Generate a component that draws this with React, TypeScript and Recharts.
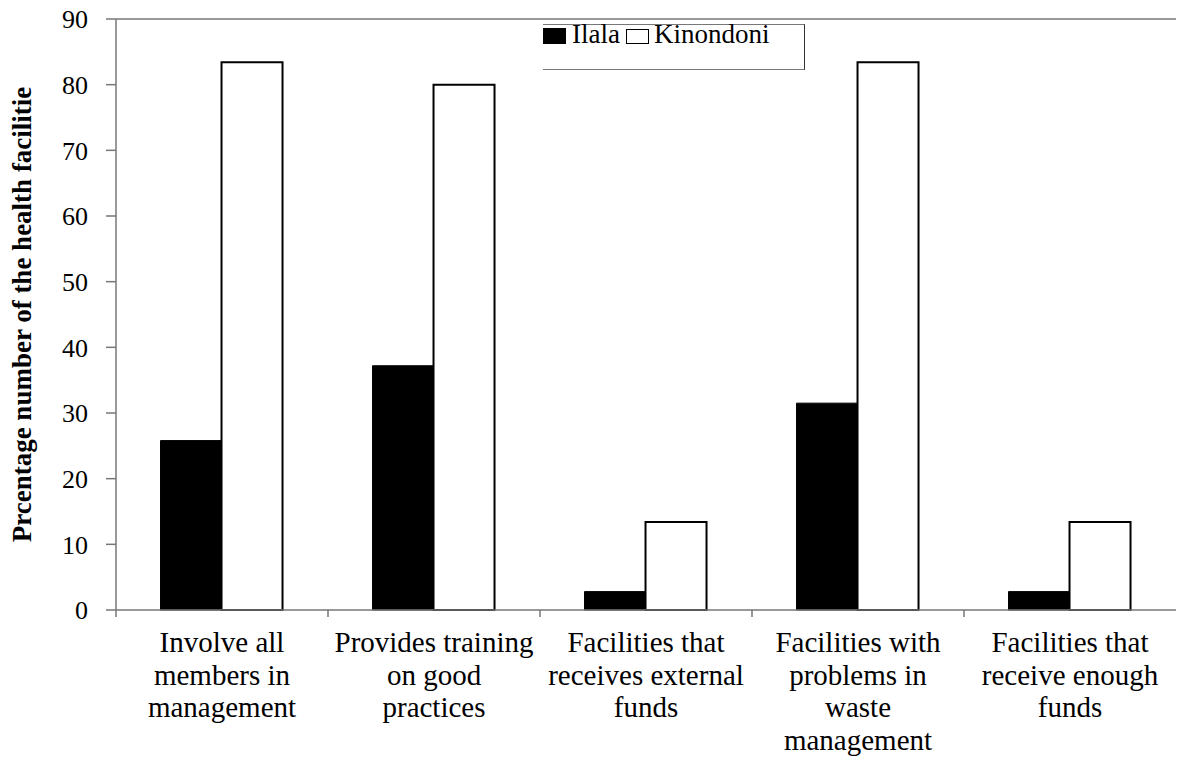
import React from "react";
import { BarChart, Bar, XAxis, YAxis, ReferenceLine, Legend } from "recharts";

const categories = [
  "Involve all|members in|management",
  "Provides training|on good|practices",
  "Facilities that|receives external|funds",
  "Facilities with|problems in|waste|management",
  "Facilities that|receive enough|funds",
];
const ilala = [25.8, 37.2, 2.8, 31.5, 2.8];
const kinondoni = [83.4, 80.0, 13.4, 83.4, 13.4];
const yTicks = [0, 10, 20, 30, 40, 50, 60, 70, 80, 90];
const yLabel = "Prcentage number of the health facilitie";
const seriesNames = ["Ilala", "Kinondoni"];

const data = categories.map((c, i) => ({ name: c, ilala: ilala[i], kinondoni: kinondoni[i] }));

const FONT = "Liberation Serif";
const AXIS = "#777777";

const CatTick = (props: any) => {
  const { x, y, payload } = props;
  const half = payload && payload.offset ? payload.offset : 106;
  const lines = String(payload.value).split("|");
  return (
    <g>
      <line x1={x - half} x2={x - half} y1={y} y2={y + 7} stroke={AXIS} strokeWidth={1.5} />
      <text textAnchor="middle" style={{ fontFamily: FONT, fontSize: 29 }} fill="#000">
        {lines.map((l, i) => (
          <tspan key={i} x={x} y={y + 42 + i * 32.5}>
            {l}
          </tspan>
        ))}
      </text>
    </g>
  );
};

const LegendBox = () => (
  <div
    style={{
      width: 262,
      height: 46,
      borderTop: "1.5px solid #777",
      borderRight: "1.5px solid #333",
      borderBottom: "1.5px solid #777",
      boxSizing: "border-box",
      position: "relative",
      fontFamily: FONT,
      fontSize: 27,
      color: "#000",
      textAlign: "left",
    }}
  >
    <div style={{ position: "absolute", left: 0, top: 3, width: 23, height: 16, background: "#000" }} />
    <div style={{ position: "absolute", left: 29, top: -4, lineHeight: "27px", whiteSpace: "nowrap" }}>{seriesNames[0]}</div>
    <div
      style={{
        position: "absolute",
        left: 83,
        top: 4,
        width: 23,
        height: 15,
        background: "#fff",
        border: "1.5px solid #000",
        boxSizing: "border-box",
      }}
    />
    <div style={{ position: "absolute", left: 111, top: -4, lineHeight: "27px", whiteSpace: "nowrap" }}>{seriesNames[1]}</div>
  </div>
);

export default function App() {
  return (
    <div style={{ position: "absolute", left: 0, top: 0, width: 1178, height: 772, background: "#fff" }}>
      <BarChart
        width={1178}
        height={772}
        data={data}
        margin={{ top: 19, right: 2, left: 0, bottom: 0 }}
        barCategoryGap="21%"
        barGap={0}
      >
        <XAxis
          dataKey="name"
          interval={0}
          height={162}
          tickLine={false}
          tickSize={0}
          tickMargin={0}
          axisLine={{ stroke: AXIS, strokeWidth: 1.5 }}
          tick={<CatTick />}
        />
        <YAxis
          domain={[0, 90]}
          ticks={yTicks}
          interval={0}
          width={116}
          tickSize={10}
          tickMargin={18}
          axisLine={{ stroke: AXIS, strokeWidth: 1.5 }}
          tickLine={{ stroke: AXIS, strokeWidth: 1.5 }}
          tick={{ fontFamily: FONT, fontSize: 26, fill: "#000" }}
          label={{
            content: (p: any) => {
              const vb = p.viewBox || { x: 0, y: 19, height: 591 };
              const cx = 22;
              const cy = vb.y + vb.height / 2;
              return (
                <text
                  x={cx}
                  y={cy}
                  transform={`rotate(-90, ${cx}, ${cy})`}
                  textAnchor="middle"
                  dominantBaseline="central"
                  style={{ fontFamily: FONT, fontWeight: "bold", fontSize: 27 }}
                  fill="#000"
                >
                  {yLabel}
                </text>
              );
            },
          }}
        />
        <ReferenceLine y={90} stroke={AXIS} strokeWidth={1.5} />
        <Legend
          layout="horizontal"
          verticalAlign="middle"
          align="center"
          content={<LegendBox />}
          wrapperStyle={{ position: "absolute", left: 543, top: 24, width: 262, height: 46 }}
        />
        <Bar dataKey="ilala" name={seriesNames[0]} fill="#000" stroke="#000" strokeWidth={1} isAnimationActive={false} />
        <Bar dataKey="kinondoni" name={seriesNames[1]} fill="#fff" stroke="#000" strokeWidth={2} isAnimationActive={false} />
      </BarChart>
    </div>
  );
}
